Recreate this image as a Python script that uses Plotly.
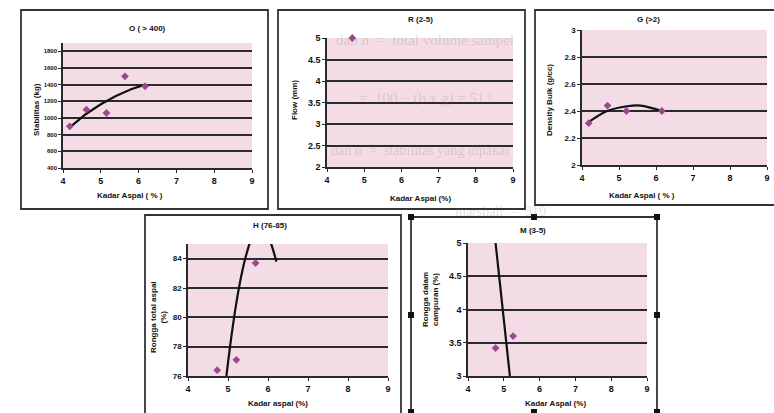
import plotly.graph_objects as go

W, H = 774, 413

# ---------------- data ----------------
x_ticks = [4, 5, 6, 7, 8, 9]

# O (> 400) : Stabilitas
o_x = [4.18, 4.62, 5.15, 5.64, 6.17]
o_y = [900, 1100, 1060, 1500, 1380]
o_trend_x = [4.18, 4.60, 5.00, 5.40, 5.80, 6.17]
o_trend_y = [888, 1045, 1165, 1265, 1345, 1400]
o_yticks = [400, 600, 800, 1000, 1200, 1400, 1600, 1800]

# R (2-5) : Flow
r_x = [4.68]
r_y = [5.0]
r_yticks = [2, 2.5, 3, 3.5, 4, 4.5, 5]

# G (>2) : Density Bulk
g_x = [4.18, 4.69, 5.20, 6.16]
g_y = [2.31, 2.44, 2.40, 2.40]
g_trend_x = [4.14, 4.68, 5.22, 5.58, 6.16]
g_trend_y = [2.31, 2.40, 2.435, 2.44, 2.40]
g_yticks = [2, 2.2, 2.4, 2.6, 2.8, 3]

# H (76-85) : Rongga total aspal
h_x = [4.73, 5.21, 5.69]
h_y = [76.4, 77.1, 83.7]
h_trend_x = [4.96, 5.08, 5.21, 5.33, 5.46, 5.60, 5.81, 6.00, 6.08, 6.21]
h_trend_y = [76.0, 78.6, 81.0, 82.8, 84.3, 85.4, 86.0, 85.5, 85.0, 83.8]
h_yticks = [76, 78, 80, 82, 84]

# M (3-5) : Rongga dalam campuran
m_x = [4.77, 5.26]
m_y = [3.42, 3.60]
m_trend_x = [4.77, 5.17]
m_trend_y = [5.0, 3.0]
m_yticks = [3, 3.5, 4, 4.5, 5]

# ---------------- helpers ----------------
def px(x):
    return x / W

def py(y):
    return 1 - y / H

PINK = "#f3dce5"
GRID = "#2a2a2a"
MARK = "#9a4a8c"
FONT = "Liberation Sans"

fig = go.Figure()

panels = [
    ("", o_x, o_y, o_trend_x, o_trend_y, "linear", [400, 1900], o_yticks, (63, 252, 43, 168), 6),
    ("2", r_x, r_y, None, None, "linear", [2, 5], r_yticks, (327, 513, 38, 167), 9),
    ("3", g_x, g_y, g_trend_x, g_trend_y, "spline", [2, 3], g_yticks, (582, 767, 30, 165), 8),
    ("4", h_x, h_y, h_trend_x, h_trend_y, "spline", [76, 85], h_yticks, (188, 388, 244, 376), 8),
    ("5", m_x, m_y, m_trend_x, m_trend_y, "linear", [3, 5], m_yticks, (468, 647, 243, 376), 9),
]

for suf, xs, ys, tx, ty, shp, yr, yt, dom, ysz in panels:
    xa = "x" + suf
    ya = "y" + suf
    if tx is not None:
        fig.add_trace(go.Scatter(x=tx, y=ty, mode="lines", xaxis=xa, yaxis=ya,
                                 line=dict(color="#111111", width=2.2, shape=shp),
                                 showlegend=False, hoverinfo="skip"))
    fig.add_trace(go.Scatter(x=xs, y=ys, mode="markers", xaxis=xa, yaxis=ya,
                             marker=dict(symbol="diamond", size=6, color=MARK),
                             cliponaxis=False, showlegend=False))
    l, r, t, b = dom
    fig.layout["xaxis" + suf] = dict(
        domain=[px(l), px(r)], anchor=ya, range=[4, 9], tickvals=x_ticks,
        showgrid=False, zeroline=False, showline=True, linecolor=GRID, linewidth=1.5,
        ticks="outside", ticklen=3, tickcolor=GRID,
        tickfont=dict(family=FONT, size=9, color="#111", weight="bold"),
        fixedrange=True, automargin=False)
    fig.layout["yaxis" + suf] = dict(
        domain=[py(b), py(t)], anchor=xa, range=yr, tickvals=yt,
        showgrid=True, gridcolor=GRID, gridwidth=1.6, zeroline=False,
        showline=True, linecolor=GRID, linewidth=1.5,
        ticks="outside", ticklen=3, tickcolor=GRID,
        tickfont=dict(family=FONT, size=ysz, color="#111", weight="bold"),
        fixedrange=True, automargin=False)

# ---------------- chart frames ----------------
frames = [(21, 268, 10, 209), (278, 525, 10, 209), (535, 780, 10, 205),
          (145, 401, 215, 420), (411, 657, 217, 420)]
for l, r, t, b in frames:
    fig.add_shape(type="rect", xref="paper", yref="paper",
                  x0=px(l), x1=px(r), y0=py(b), y1=py(t),
                  line=dict(color="#333333", width=1.8), layer="below")

# selection handles on chart M
handles = [(411, 217), (534, 217), (657, 217), (411, 315), (657, 315),
           (411, 412), (534, 412), (657, 412)]
for hx, hy in handles:
    fig.add_shape(type="rect", xref="paper", yref="paper",
                  x0=px(hx - 3), x1=px(hx + 3), y0=py(hy + 3), y1=py(hy - 3),
                  line=dict(width=0), fillcolor="#111111")

# ---------------- texts ----------------
def txt(x, y, s, size=8, angle=0, color="#111", weight="bold", family=FONT):
    fig.add_annotation(x=px(x), y=py(y), xref="paper", yref="paper", text=s,
                       showarrow=False, textangle=angle, xanchor="center", yanchor="middle",
                       font=dict(family=family, size=size, color=color, weight=weight))

# faint text of the scanned page showing through
ghost = "rgba(110,110,110,0.22)"
txt(425, 40, "dan n  =  total volume sampel", 15, color=ghost, weight="normal", family="Liberation Serif")
txt(425, 98, "=  100 − (b x g) = 51 |", 15, color=ghost, weight="normal", family="Liberation Serif")
txt(420, 150, "dan α  =  stabilitas yang dipakai", 14, color=ghost, weight="normal", family="Liberation Serif")
txt(500, 211, "marshall  =  310", 14, color=ghost, weight="normal", family="Liberation Serif")

# chart titles
txt(147, 28, "O ( > 400)")
txt(420, 19, "R (2-5)")
txt(648, 20, "G (>2)")
txt(270, 225, "H (76-85)")
txt(533, 230, "M (3-5)")

# x axis titles
txt(130, 195, "Kadar Aspal ( % )")
txt(420, 198, "Kadar Aspal (%)")
txt(642, 195, "Kadar Aspal ( % )")
txt(278, 403, "Kadar aspal (%)")
txt(555, 403, "Kadar Aspal (%)")

# y axis titles
txt(36, 110, "Stabilitas (kg)", 8, -90)
txt(295, 100, "Flow (mm)", 8, -90)
txt(550, 100, "Density Bulk (g/cc)", 8, -90)
txt(158, 317, "Rongga total aspal<br>(%)", 8, -90)
txt(430, 300, "Rongga dalam<br>campuran (%)", 8, -90)

fig.update_layout(
    width=W, height=H,
    margin=dict(l=0, r=0, t=0, b=0, autoexpand=False),
    paper_bgcolor="white",
    plot_bgcolor=PINK,
    showlegend=False,
)

fig.write_html("out.html",
               config={"displayModeBar": False},
               post_script="document.body.style.margin='0';document.body.style.overflow='hidden';")
